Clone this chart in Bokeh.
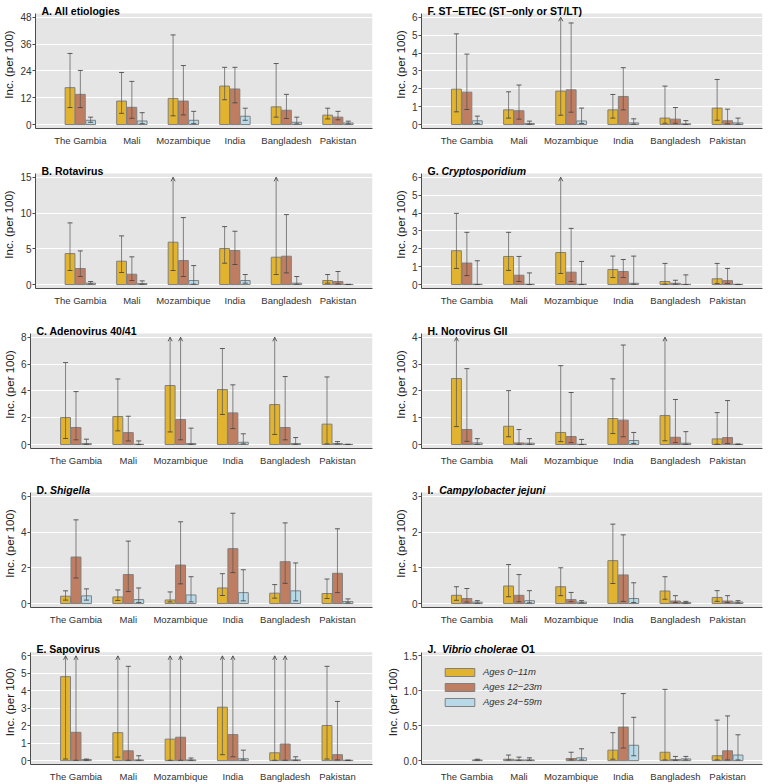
from bokeh.plotting import figure
from bokeh.layouts import column, row
from bokeh.models import (ColumnDataSource, FixedTicker, Whisker, TeeHead, OpenHead,
                          Label, Legend, LegendItem, Range1d, BoxAnnotation)
from bokeh.embed import file_html
from bokeh.resources import INLINE

countries = ["The Gambia", "Mali", "Mozambique", "India", "Bangladesh", "Pakistan"]
age_groups = ["Ages 0\u221211m", "Ages 12\u221223m", "Ages 24\u221259m"]
age_colors = ["#E1B32F", "#BF7E62", "#B7D9E8"]

# ---- A. All etiologies  (rows: 0-11m, 12-23m, 24-59m)
A_mid = [[16.5, 10.5, 11.7, 17.2, 7.9, 4.2], [13.5, 7.7, 10.5, 15.9, 6.4, 3.3], [1.9, 1.6, 1.9, 3.7, 1.0, 0.7]]
A_low = [[7.6, 5.0, 3.9, 11.1, 3.3, 2.5], [7.6, 2.8, 4.3, 9.7, 2.7, 2.1], [1.0, 0.4, 0.4, 1.9, 0.3, 0.3]]
A_high = [[31.8, 23.3, 40.1, 25.6, 27.3, 7.3], [24.2, 19.3, 26.4, 25.6, 13.5, 5.9], [3.3, 5.3, 5.9, 7.3, 3.3, 1.5]]
A_ticks = [0, 12, 24, 36, 48]
A_tick_labels = ["0", "12", "24", "36", "48"]

# ---- B. Rotavirus
B_mid = [[4.33, 3.26, 5.92, 5.03, 3.82, 0.56], [2.24, 1.44, 3.35, 4.75, 3.96, 0.42], [0.19, 0.14, 0.56, 0.56, 0.19, 0.02]]
B_low = [[1.96, 1.68, 1.96, 2.98, 1.40, 0.19], [1.12, 0.56, 1.12, 2.80, 1.63, 0.09], [0.10, 0.05, 0.05, 0.19, 0.05, 0.0]]
B_high = [[8.62, 6.80, 15, 8.10, 15, 1.40], [4.70, 3.87, 9.36, 7.45, 9.78, 1.82], [0.42, 0.51, 2.65, 1.40, 1.12, 0.02]]
B_ticks = [0, 5, 10, 15]
B_tick_labels = ["0", "5", "10", "15"]

# ---- C. Adenovirus 40/41
C_mid = [[2.01, 2.09, 4.40, 4.10, 2.98, 1.52], [1.27, 0.89, 1.86, 2.36, 1.27, 0.07], [0.07, 0.02, 0.07, 0.17, 0.07, 0.01]]
C_low = [[0.45, 1.02, 0.94, 2.24, 0.75, 0.05], [0.35, 0.27, 0.35, 1.19, 0.35, 0.04], [0.02, 0.0, 0.02, 0.05, 0.02, 0.0]]
C_high = [[6.11, 4.89, 8, 7.16, 8, 5.04], [3.95, 2.11, 8, 4.45, 5.07, 0.22], [0.40, 0.27, 1.22, 0.80, 0.52, 0.02]]
C_ticks = [0, 2, 4, 6, 8]
C_tick_labels = ["0", "2", "4", "6", "8"]

# ---- D. Shigella
D_mid = [[0.41, 0.37, 0.20, 0.87, 0.58, 0.56], [2.60, 1.62, 2.15, 3.07, 2.34, 1.69], [0.43, 0.22, 0.48, 0.61, 0.71, 0.11]]
D_low = [[0.19, 0.17, 0.09, 0.45, 0.30, 0.28], [1.43, 0.67, 1.10, 1.73, 1.13, 0.61], [0.19, 0.06, 0.09, 0.15, 0.15, 0.04]]
D_high = [[0.71, 0.76, 0.65, 1.67, 1.06, 1.37], [4.68, 3.49, 4.57, 5.05, 4.51, 4.18], [0.82, 0.87, 1.50, 1.89, 2.27, 0.26]]
D_ticks = [0, 2, 4, 6]
D_tick_labels = ["0", "2", "4", "6"]

# ---- E. Sapovirus
E_mid = [[4.81, 1.60, 1.23, 3.06, 0.45, 2.01], [1.62, 0.56, 1.34, 1.49, 0.95, 0.34], [0.06, 0.04, 0.04, 0.11, 0.04, 0.02]]
E_low = [[0.09, 0.20, 0.02, 0.34, 0.02, 0.09], [0.02, 0.02, 0.02, 0.22, 0.02, 0.04], [0.02, 0.02, 0.02, 0.04, 0.02, 0.01]]
E_high = [[6, 6, 6, 6, 6, 5.40], [6, 5.40, 6, 6, 6, 3.39], [0.09, 0.28, 0.15, 0.60, 0.22, 0.03]]
E_ticks = [0, 1, 2, 3, 4, 5, 6]
E_tick_labels = ["0", "1", "2", "3", "4", "5", "6"]

# ---- F. ST-ETEC
F_mid = [[1.98, 0.82, 1.87, 0.82, 0.36, 0.92], [1.81, 0.77, 1.94, 1.57, 0.30, 0.21], [0.21, 0.06, 0.20, 0.09, 0.04, 0.09]]
F_low = [[0.71, 0.36, 0.52, 0.36, 0.07, 0.24], [0.84, 0.30, 0.69, 0.82, 0.07, 0.04], [0.06, 0.02, 0.06, 0.02, 0.0, 0.02]]
F_high = [[5.07, 1.83, 6, 1.68, 2.15, 2.52], [3.94, 2.21, 5.68, 3.18, 0.95, 0.86], [0.47, 0.19, 0.92, 0.32, 0.22, 0.36]]
F_ticks = [0, 1, 2, 3, 4, 5, 6]
F_tick_labels = ["0", "1", "2", "3", "4", "5", "6"]

# ---- G. Cryptosporidium
G_mid = [[1.89, 1.57, 1.79, 0.84, 0.17, 0.32], [1.20, 0.52, 0.69, 0.73, 0.07, 0.22], [0.02, 0.02, 0.02, 0.07, 0.01, 0.01]]
G_low = [[0.90, 0.79, 0.62, 0.39, 0.02, 0.06], [0.50, 0.17, 0.17, 0.39, 0.02, 0.06], [0.0, 0.0, 0.0, 0.02, 0.0, 0.0]]
G_high = [[3.98, 2.92, 6, 1.59, 1.18, 1.18], [2.92, 1.57, 3.14, 1.40, 0.24, 0.90], [1.33, 0.65, 1.29, 1.59, 0.54, 0.01]]
G_ticks = [0, 1, 2, 3, 4, 5, 6]
G_tick_labels = ["0", "1", "2", "3", "4", "5", "6"]

# ---- H. Norovirus GII
H_mid = [[2.46, 0.68, 0.45, 0.97, 1.08, 0.21], [0.56, 0.06, 0.30, 0.91, 0.27, 0.26], [0.06, 0.05, 0.01, 0.15, 0.05, 0.01]]
H_low = [[0.67, 0.29, 0.11, 0.41, 0.14, 0.01], [0.12, 0.01, 0.07, 0.29, 0.07, 0.04], [0.01, 0.01, 0.0, 0.04, 0.01, 0.0]]
H_high = [[4, 2.01, 2.94, 2.45, 4, 1.19], [2.83, 0.56, 1.94, 3.71, 1.68, 1.64], [0.22, 0.22, 0.19, 0.45, 0.48, 0.02]]
H_ticks = [0, 1, 2, 3, 4]
H_tick_labels = ["0", "1", "2", "3", "4"]

# ---- I. Campylobacter jejuni
I_mid = [[0.23, 0.49, 0.47, 1.20, 0.35, 0.17], [0.14, 0.23, 0.11, 0.80, 0.07, 0.07], [0.04, 0.08, 0.04, 0.14, 0.03, 0.04]]
I_low = [[0.09, 0.19, 0.22, 0.56, 0.12, 0.06], [0.04, 0.05, 0.05, 0.06, 0.03, 0.03], [0.01, 0.02, 0.02, 0.03, 0.01, 0.02]]
I_high = [[0.47, 1.09, 1.00, 2.22, 0.75, 0.36], [0.42, 0.81, 0.31, 1.92, 0.22, 0.22], [0.08, 0.36, 0.08, 0.58, 0.06, 0.08]]
I_ticks = [0, 1, 2, 3]
I_tick_labels = ["0", "1", "2", "3"]

# ---- J. Vibrio cholerae O1  (None = no estimate)
J_mid = [[None, 0.02, None, 0.15, 0.12, 0.07], [None, 0.01, 0.03, 0.48, 0.015, 0.14], [0.01, 0.01, 0.04, 0.22, 0.025, 0.08]]
J_low = [[None, 0.01, None, 0.02, 0.01, 0.01], [None, 0.005, 0.01, 0.18, 0.005, 0.01], [0.005, 0.005, 0.01, 0.07, 0.01, 0.01]]
J_high = [[None, 0.08, None, 0.40, 1.02, 0.58], [None, 0.05, 0.12, 0.96, 0.06, 0.64], [0.02, 0.04, 0.17, 0.62, 0.06, 0.37]]
J_ticks = [0, 0.5, 1.0, 1.5]
J_tick_labels = ["0.0", "0.5", "1.0", "1.5"]

titles = {
    "A": [("A. All etiologies", "bold")],
    "B": [("B. Rotavirus", "bold")],
    "C": [("C. Adenovirus 40/41", "bold")],
    "D": [("D. ", "bold"), ("Shigella", "bold italic")],
    "E": [("E. Sapovirus", "bold")],
    "F": [("F. ST\u2212ETEC (ST\u2212only or ST/LT)", "bold")],
    "G": [("G. ", "bold"), ("Cryptosporidium", "bold italic")],
    "H": [("H. Norovirus GII", "bold")],
    "I": [("I.  ", "bold"), ("Campylobacter jejuni", "bold italic")],
    "J": [("J.  ", "bold"), ("Vibrio cholerae", "bold italic"), (" O1", "bold")],
}

panels = {
    "A": (A_mid, A_low, A_high, A_ticks, A_tick_labels),
    "B": (B_mid, B_low, B_high, B_ticks, B_tick_labels),
    "C": (C_mid, C_low, C_high, C_ticks, C_tick_labels),
    "D": (D_mid, D_low, D_high, D_ticks, D_tick_labels),
    "E": (E_mid, E_low, E_high, E_ticks, E_tick_labels),
    "F": (F_mid, F_low, F_high, F_ticks, F_tick_labels),
    "G": (G_mid, G_low, G_high, G_ticks, G_tick_labels),
    "H": (H_mid, H_low, H_high, H_ticks, H_tick_labels),
    "I": (I_mid, I_low, I_high, I_ticks, I_tick_labels),
    "J": (J_mid, J_low, J_high, J_ticks, J_tick_labels),
}

FONT = "Liberation Sans"
TITLE_SIZE = 10.5
# Arial/Liberation Sans Bold advance widths (em) for laying out mixed-style titles
BW = {" ": .278, ".": .278, "/": .278, "(": .333, ")": .333, "\u2212": .584, "-": .333,
      "A": .722, "B": .722, "C": .722, "D": .722, "E": .667, "F": .611, "G": .778, "H": .722,
      "I": .278, "J": .556, "L": .611, "O": .778, "S": .667, "T": .611, "V": .667,
      "a": .556, "b": .611, "c": .556, "d": .611, "e": .556, "f": .333, "g": .611, "h": .611,
      "i": .278, "j": .278, "k": .556, "l": .278, "m": .889, "n": .611, "o": .611, "p": .611,
      "q": .611, "r": .389, "s": .556, "t": .333, "u": .611, "v": .556, "w": .778, "y": .556}


def text_width(s, size):
    return sum(BW.get(c, 0.556) for c in s) * size


X_START, X_END = 0.13, 6.67
OFFSETS = [-0.2, 0.0, 0.2]
BAR_W = 0.19
PANEL_PX = 115      # height of the grey data panel
TITLE_PX = 13       # strip above it (inside the frame) holding the title


def make_panel(key, width, height, bl, br, bb, legend=False):
    mid, low, high, ticks, tick_labels = panels[key]
    ymax = ticks[-1]
    y0 = -0.037 * ymax
    y1 = 1.035 * ymax
    upp = (y1 - y0) / PANEL_PX
    ytop = y1 + TITLE_PX * upp
    p = figure(width=width, height=height, output_backend="svg", toolbar_location=None,
               x_range=Range1d(X_START, X_END), y_range=Range1d(y0, ytop),
               min_border_left=bl, min_border_right=br, min_border_top=0, min_border_bottom=bb,
               background_fill_color="white", border_fill_color="white",
               outline_line_color=None)
    p.add_layout(BoxAnnotation(left=X_START, right=X_END, bottom=y0, top=y1,
                               fill_color="#E5E5E5", fill_alpha=1, line_color=None, level="image"))
    # axes
    p.xaxis.ticker = FixedTicker(ticks=[1, 2, 3, 4, 5, 6])
    p.xaxis.major_label_overrides = {i + 1: c for i, c in enumerate(countries)}
    p.xaxis.major_tick_line_color = None
    p.xaxis.major_tick_out = 0
    p.xaxis.major_tick_in = 0
    p.xaxis.minor_tick_line_color = None
    p.xaxis.major_label_standoff = 6
    p.xaxis.major_label_text_font = FONT
    p.xaxis.major_label_text_font_size = "9.5px"
    p.xaxis.major_label_text_color = "#333333"
    p.xaxis.axis_line_color = "#4D4D4D"

    yt = FixedTicker(ticks=ticks)
    p.yaxis.ticker = yt
    p.ygrid.ticker = yt
    p.yaxis.bounds = (y0, y1)
    p.yaxis.major_label_overrides = {t: l for t, l in zip(ticks, tick_labels)}
    p.yaxis.axis_label = "Inc. (per 100)"
    p.yaxis.axis_label_text_font = FONT
    p.yaxis.axis_label_text_font_size = "11.5px"
    p.yaxis.axis_label_text_font_style = "normal"
    p.yaxis.axis_label_text_color = "#1A1A1A"
    p.yaxis.axis_label_standoff = 2
    p.yaxis.major_label_text_font = FONT
    p.yaxis.major_label_text_font_size = "10px"
    p.yaxis.major_label_text_color = "#333333"
    p.yaxis.major_label_standoff = 1
    p.yaxis.major_tick_out = 3
    p.yaxis.major_tick_in = 0
    p.yaxis.minor_tick_line_color = None
    p.yaxis.axis_line_color = "#4D4D4D"
    p.yaxis.major_tick_line_color = "#4D4D4D"

    p.xgrid.grid_line_color = None
    p.ygrid.grid_line_color = "white"
    p.ygrid.grid_line_width = 1

    renderers = []
    wn = dict(x=[], lo=[], hi=[])
    wc = dict(x=[], lo=[], hi=[])
    for g in range(3):
        xs, tops = [], []
        for i in range(6):
            if mid[g][i] is None:
                continue
            x = i + 1 + OFFSETS[g]
            xs.append(x)
            tops.append(mid[g][i])
            if high[g][i] >= ymax:
                wc["x"].append(x); wc["lo"].append(low[g][i]); wc["hi"].append(ymax)
            else:
                wn["x"].append(x); wn["lo"].append(low[g][i]); wn["hi"].append(high[g][i])
        src = ColumnDataSource(dict(x=xs, top=tops))
        r = p.vbar(x="x", top="top", bottom=0, width=BAR_W, source=src,
                   fill_color=age_colors[g], line_color="#808080", line_width=1)
        renderers.append(r)

    line_kw = dict(line_color="#555555", line_alpha=0.7, line_width=1)
    head_kw = dict(line_color="#444444", line_alpha=0.85, line_width=1)
    p.add_layout(Whisker(source=ColumnDataSource(wn), base="x", lower="lo", upper="hi",
                         dimension="height", level="overlay",
                         upper_head=TeeHead(size=5, **head_kw),
                         lower_head=TeeHead(size=5, **head_kw), **line_kw))
    if wc["x"]:
        p.add_layout(Whisker(source=ColumnDataSource(wc), base="x", lower="lo", upper="hi",
                             dimension="height", level="overlay",
                             upper_head=OpenHead(size=4, **head_kw),
                             lower_head=TeeHead(size=5, **head_kw), **line_kw))

    # title (mixed bold / bold italic segments), drawn in the strip above the grey panel
    xoff = 6
    for txt, style in titles[key]:
        lead = len(txt) - len(txt.lstrip())
        p.add_layout(Label(x=X_START, y=y1, x_units="data", y_units="data",
                           x_offset=xoff + text_width(txt[:lead], TITLE_SIZE), y_offset=3,
                           text=txt.strip(),
                           text_font=FONT, text_font_size=f"{TITLE_SIZE}px",
                           text_font_style=style, text_color="black",
                           text_baseline="alphabetic", text_align="left"))
        xoff += text_width(txt, TITLE_SIZE)

    if legend:
        items = [LegendItem(label=age_groups[g], renderers=[renderers[g]]) for g in range(3)]
        lg = Legend(items=items, location=(20, 57), glyph_width=37, glyph_height=10,
                    label_height=10, spacing=4, padding=0, margin=0, label_standoff=5,
                    background_fill_alpha=0, border_line_alpha=0,
                    label_text_font=FONT, label_text_font_style="italic",
                    label_text_font_size="9.5px", label_text_color="#333333")
        p.add_layout(lg)
    return p


heights = [160, 160, 159, 160, 145]
rows = []
for k, (lk, rk) in enumerate(zip(["A", "B", "C", "D", "E"], ["F", "G", "H", "I", "J"])):
    h = heights[k]
    bb = h - TITLE_PX - PANEL_PX
    pl = make_panel(lk, 382, h, 30, 10, bb)
    pr = make_panel(rk, 381, h, 39, 1, bb, legend=(rk == "J"))
    rows.append(row(pl, pr))

layout = column(*rows)
open("out.html", "w").write(file_html(layout, INLINE))
